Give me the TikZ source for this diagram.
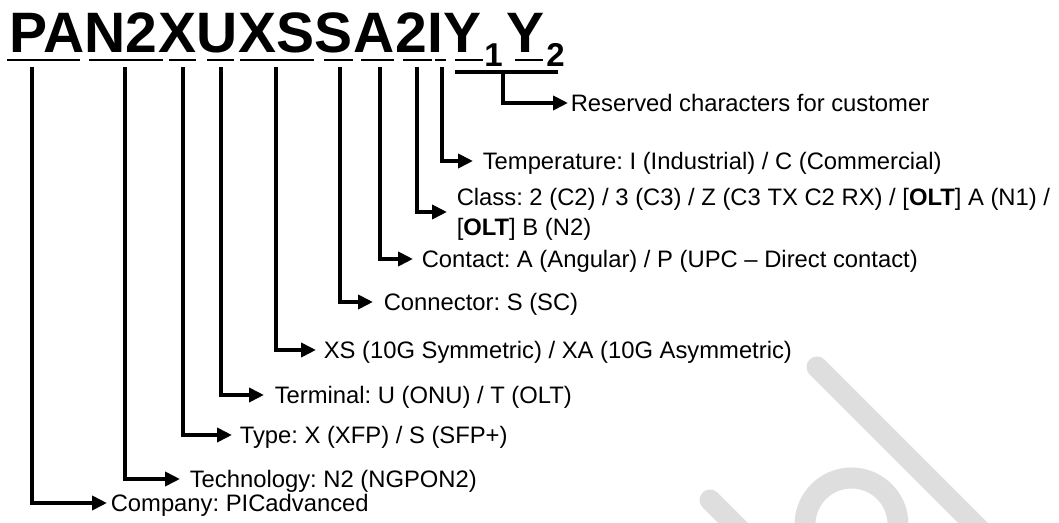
\documentclass[tikz,border=0pt]{standalone}
\usepackage{fontspec}
\setmainfont{Liberation Sans}
\usetikzlibrary{arrows.meta,calc}
\definecolor{wmgray}{HTML}{DEDEDE}
\frenchspacing
\begin{document}
\begin{tikzpicture}[x=0.75pt,y=-0.75pt,
  ttl/.style={inner sep=0pt,anchor=base west,font=\fontsize{42.75}{45}\selectfont\bfseries},
  subs/.style={inner sep=0pt,anchor=base west,font=\fontsize{24.75}{26}\selectfont\bfseries},
  lbl/.style={inner sep=0pt,anchor=base west,font=\fontsize{17.85}{22.5}\selectfont\frenchspacing,align=left},
  uln/.style={line width=1.5pt},
  bar/.style={line width=3pt},
  conn/.style={line width=3pt,line join=miter,-{Triangle[length=11.25pt,width=10.5pt]}},
  wm/.style={line width=15.75pt,draw=wmgray,line cap=round}]
\useasboundingbox (0,0) rectangle (1059,523);
% watermark
\draw[wm] (817,367) -- (990,540);
\draw[wm] (851.5,524.5) circle [radius=46.5];
\draw[wm] (710,500) -- (750,540);
% title
\node[ttl] (gPA) at (9,53) {PA};
\node[ttl] (gN2) at (gPA.base east) {N2};
\node[ttl] (gX) at (gN2.base east) {X};
\node[ttl] (gU) at (gX.base east) {U};
\node[ttl] (gXS) at (gU.base east) {XS};
\node[ttl] (gS) at (gXS.base east) {S};
\node[ttl] (gA) at (gS.base east) {A};
\node[ttl] (g2) at (gA.base east) {2};
\node[ttl] (gI) at (g2.base east) {I};
\node[ttl] (gY1) at (gI.base east) {Y};
\node[subs] (s1) at (484,67) {1};
\node[ttl] (gY2) at (506,53) {Y};
\node[subs] (s2) at (546,67) {2};
% underlines
\draw[uln] (7,60) -- (80,60);
\draw[uln] (89,60) -- (163,60);
\draw[uln] (169,60) -- (196,60);
\draw[uln] (207,60) -- (234,60);
\draw[uln] (240,60) -- (314,60);
\draw[uln] (324,60) -- (353,60);
\draw[uln] (361,60) -- (394,60);
\draw[uln] (403,60) -- (432,60);
\draw[uln] (435,60) -- (446,60);
\draw[uln] (455,60) -- (483,60);
\draw[uln] (515,60) -- (543,60);
% connector origins
\coordinate (vPA) at (32,67);
\coordinate (vN2) at (125,67);
\coordinate (vX) at (183,67);
\coordinate (vU) at (221,67);
\coordinate (vXS) at (276,67);
\coordinate (vS) at (340,67);
\coordinate (vA) at (380,67);
\coordinate (v2) at (417,67);
\coordinate (vI) at (442,67);
\coordinate (yL) at (455,72);
\coordinate (yR) at (558,72);
\coordinate (vY) at (503,72);
\draw[bar] (yL) -- (yR);
% labels
\node[lbl] (lRes) at (570.5,111.5) {Reserved characters for customer};
\node[lbl] (lTemp) at (482.5,169.5) {Temperature: I (Industrial) / C (Commercial)};
\node[lbl] (lClass) at (456.5,235.5) {Class: 2 (C2) / 3 (C3) / Z (C3 TX C2 RX) / [\textbf{OLT}] A (N1) /\\{}[\textbf{OLT}] B (N2)};
\node[lbl] (lCont) at (421.5,267.5) {Contact: A (Angular) / P (UPC \textendash{} Direct contact)};
\node[lbl] (lConn) at (383.5,310.5) {Connector: S (SC)};
\node[lbl] (lXS) at (323.5,358.5) {XS (10G Symmetric) / XA (10G Asymmetric)};
\node[lbl] (lTerm) at (274.5,403.5) {Terminal: U (ONU) / T (OLT)};
\node[lbl] (lType) at (239.5,443.5) {Type: X (XFP) / S (SFP+)};
\node[lbl] (lTech) at (189.5,487.5) {Technology: N2 (NGPON2)};
\node[lbl] (lComp) at (110.5,511.5) {Company: PICadvanced};
% connectors
\draw[conn] (vY) |- ($(lRes.base west)+(-2.5,-8.5)$);
\draw[conn] (vI) |- ($(lTemp.base west)+(-9.5,-8.5)$);
\draw[conn] (v2) |- ($(lClass.base west)+(-9.5,-23.5)$);
\draw[conn] (vA) |- ($(lCont.base west)+(-8.5,-8.5)$);
\draw[conn] (vS) |- ($(lConn.base west)+(-10.5,-8.5)$);
\draw[conn] (vXS) |- ($(lXS.base west)+(-7.5,-8.5)$);
\draw[conn] (vU) |- ($(lTerm.base west)+(-10.5,-8.5)$);
\draw[conn] (vX) |- ($(lType.base west)+(-7.5,-8.5)$);
\draw[conn] (vN2) |- ($(lTech.base west)+(-9.5,-8.5)$);
\draw[conn] (vPA) |- ($(lComp.base west)+(-3.5,-8.5)$);
\end{tikzpicture}
\end{document}
